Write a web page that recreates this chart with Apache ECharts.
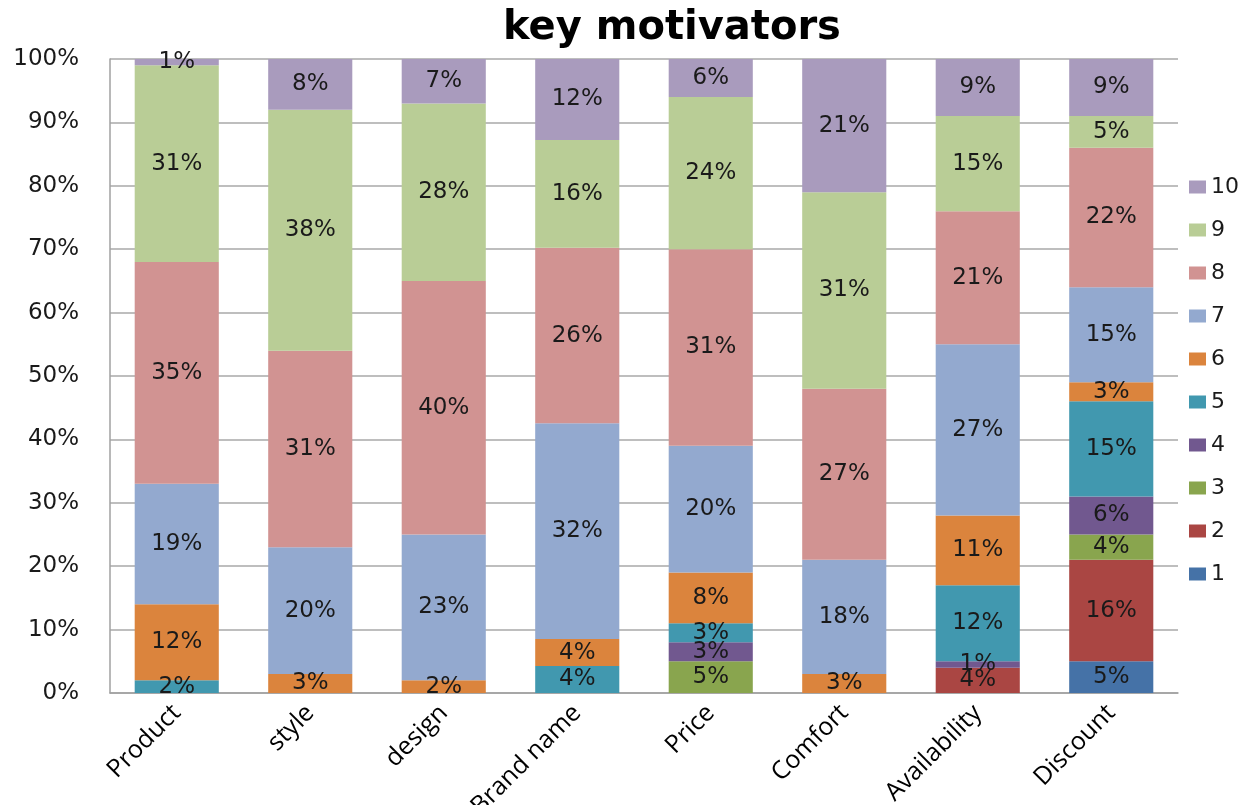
<!DOCTYPE html>
<html>
<head>
<meta charset="utf-8">
<title>key motivators</title>
<script src="https://cdn.jsdelivr.net/npm/echarts@6/dist/echarts.min.js"></script>
<style>
  html, body { margin: 0; padding: 0; background: #fff; }
  #chart { width: 1248px; height: 805px; }
</style>
</head>
<body>
<div id="chart"></div>
<script>
// Motivator categories along the x axis
const categories = ['Product', 'style', 'design', 'Brand name', 'Price', 'Comfort', 'Availability', 'Discount'];

// Rating levels (series), 1 = lowest, 10 = highest
const ratings = ['1', '2', '3', '4', '5', '6', '7', '8', '9', '10'];

// Share of respondents per rating, one array per rating, in category order (0 = none)
const rating1  = [0, 0, 0, 0, 0, 0, 0, 5];
const rating2  = [0, 0, 0, 0, 0, 0, 4, 16];
const rating3  = [0, 0, 0, 0, 5, 0, 0, 4];
const rating4  = [0, 0, 0, 0, 3, 0, 1, 6];
const rating5  = [2, 0, 0, 4, 3, 0, 12, 15];
const rating6  = [12, 3, 2, 4, 8, 3, 11, 3];
const rating7  = [19, 20, 23, 32, 20, 18, 27, 15];
const rating8  = [35, 31, 40, 26, 31, 27, 21, 22];
const rating9  = [31, 38, 28, 16, 24, 31, 15, 5];
const rating10 = [1, 8, 7, 12, 6, 21, 9, 9];

// Value axis tick labels
const yTickLabels = ['0%', '10%', '20%', '30%', '40%', '50%', '60%', '70%', '80%', '90%', '100%'];

const ratingValues = [rating1, rating2, rating3, rating4, rating5, rating6, rating7, rating8, rating9, rating10];
const colors = ['#4572A7', '#AA4643', '#89A54E', '#71588F', '#4198AF', '#DB843D', '#93A9CF', '#D19392', '#B9CD96', '#A99BBD'];

// Column totals so every column is stacked to 100%
const totals = categories.map((_, i) => ratingValues.reduce((s, arr) => s + arr[i], 0));

const labelFont = 'DejaVu Sans';

const series = ratings.map((name, k) => ({
  name: name,
  type: 'bar',
  stack: 'total',
  barWidth: '63%',
  itemStyle: { color: colors[k] },
  label: {
    show: true,
    position: 'inside',
    color: '#1a1a1a',
    fontFamily: labelFont,
    fontSize: 23,
    formatter: p => p.data.raw + '%'
  },
  emphasis: { disabled: true },
  data: ratingValues[k].map((v, i) => v > 0
    ? { value: v / totals[i] * 100, raw: v }
    : { value: null, raw: 0 })
}));

const chart = echarts.init(document.getElementById('chart'), null, { renderer: 'canvas' });
chart.setOption({
  animation: false,
  backgroundColor: '#ffffff',
  title: {
    text: 'key motivators',
    left: 667,
    textAlign: 'center',
    top: 4,
    textStyle: { fontFamily: 'DejaVu Sans', fontWeight: 'bold', fontSize: 40, color: '#000' }
  },
  grid: { left: 110, right: 70, top: 59, bottom: 112, containLabel: false, outerBoundsMode: 'none' },
  legend: {
    orient: 'vertical',
    left: 1184,
    top: 171,
    itemWidth: 17,
    itemHeight: 13,
    itemGap: 21,
    icon: 'rect',
    selectedMode: false,
    data: ratings.slice().reverse(),
    textStyle: { fontFamily: labelFont, fontSize: 22, color: '#1a1a1a', lineHeight: 22 }
  },
  xAxis: {
    type: 'category',
    data: categories,
    axisLine: { show: true, lineStyle: { color: '#a0a0a0', width: 1.5 } },
    axisTick: { show: false },
    axisLabel: {
      rotate: 45,
      margin: 16,
      interval: 0,
      fontFamily: 'Open Sans',
      fontSize: 25,
      color: '#000'
    }
  },
  yAxis: {
    type: 'value',
    min: 0,
    max: 100,
    interval: 10,
    axisLine: { show: true, lineStyle: { color: '#a0a0a0', width: 1.5 } },
    axisTick: { show: false },
    splitLine: { show: true, lineStyle: { color: '#a8a8a8', width: 1.5 } },
    axisLabel: {
      margin: 31,
      fontFamily: labelFont,
      fontSize: 23,
      color: '#1a1a1a',
      formatter: v => yTickLabels[Math.round(v / 10)]
    }
  },
  series: series
});
</script>
</body>
</html>
